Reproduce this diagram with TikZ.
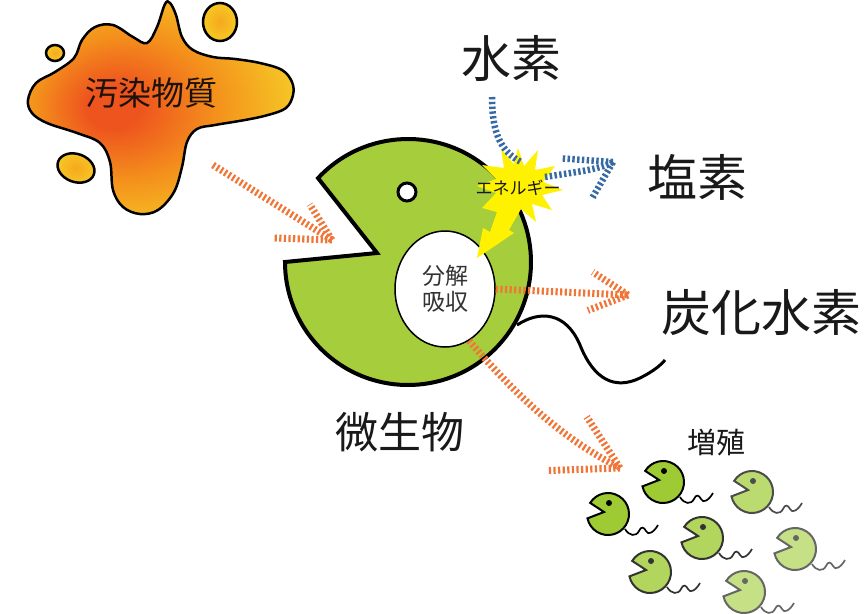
\documentclass[tikz,border=0pt]{standalone}
\usepackage{fontspec}
\newfontfamily\jp{Noto Sans CJK JP}
\usepackage{tikz}
\usetikzlibrary{shapes.geometric}

\definecolor{splatcore}{RGB}{238,84,30}
\definecolor{splatmid}{RGB}{244,145,28}
\definecolor{splatrim}{RGB}{246,205,38}
\definecolor{dropcore}{RGB}{246,168,30}
\definecolor{dropfill}{RGB}{246,200,36}
\definecolor{bodygreen}{RGB}{165,205,60}
\definecolor{bugfill}{RGB}{158,203,52}
\definecolor{feedorange}{RGB}{240,118,56}
\definecolor{gasblue}{RGB}{55,105,165}
\definecolor{sparkyellow}{RGB}{255,242,0}
\definecolor{inktext}{RGB}{25,25,25}

% orange splat: red core fading out to yellow
\pgfdeclareradialshading{splat}{\pgfpoint{-10bp}{0bp}}{color(0bp)=(splatcore); color(5bp)=(splatcore); color(17bp)=(splatmid); color(31bp)=(splatrim); color(50bp)=(splatrim)}

\begin{document}
\begin{tikzpicture}[x=1pt,y=-1pt,
feed/.style={draw=feedorange,line width=7pt,dash pattern=on 2.2pt off 2.4pt},
gas/.style={draw=gasblue,line width=6.5pt,dash pattern=on 2.4pt off 2.4pt},
biglabel/.style={font=\jp\fontsize{50}{56}\selectfont,text=inktext,inner sep=0pt},
midlabel/.style={font=\jp\fontsize{43}{48}\selectfont,text=inktext,inner sep=0pt},
smalllabel/.style={font=\jp\fontsize{29}{32}\selectfont,text=inktext,inner sep=0pt},
pics/bug/.style={code={
  \draw[draw=black!#1!white,line width=1.7pt] (17,15) .. controls (21,22) and (28,23) .. (31,17) .. controls (33,12) and (36,13) .. (38,17) .. controls (40,22) and (46,18) .. (50,11);
  \draw[fill=bugfill!#1!white,draw=black!#1!white,line width=2pt] (-4,-2) -- (212:21) arc[start angle=212,end angle=528,radius=21] -- cycle;
  \fill[black!#1!white] (1,-11) circle[radius=3];
}}]
\path[use as bounding box,fill=white] (0,0) rectangle (864,613);

% pollutant splat and its drops
\shade[shading=splat,draw=black,line width=2.5pt] plot[smooth cycle,tension=0.6] coordinates {
  (28,100) (36,83) (55,72) (74,58) (82,40) (95,27) (113,25) (133,37) (147,43)
  (157,27) (165,4) (170,3) (176,15) (182,37) (193,50) (213,57) (235,59) (260,63)
  (282,70) (292,82) (293,95) (286,108) (268,115) (245,120) (215,125) (197,129)
  (187,142) (182,167) (174,192) (158,210) (140,214) (123,207) (113,190) (110,162)
  (100,143) (77,133) (47,123) (32,113)};
\shade[inner color=dropcore,outer color=dropfill,draw=black,line width=2.5pt] (220,22) ellipse[x radius=17,y radius=19];
\shade[inner color=dropcore,outer color=dropfill,draw=black,line width=2.5pt] (55,53) ellipse[x radius=9,y radius=8];
\shade[inner color=dropcore,outer color=dropfill,draw=black,line width=2.5pt,rotate around={-20:(76,168)}] (76,168) ellipse[x radius=19,y radius=14];
\node[font=\jp\fontsize{33}{36}\selectfont,text=black!85!brown,inner sep=0pt] (pollutant) at (151,93) {汚染物質};

% the microbe
\coordinate (cell) at (408,262);
\coordinate (gape) at (377,253);
\coordinate (eye) at (407,192);
\draw[line width=3pt] (517,325) .. controls (540,310) and (566,312) .. (580,345) .. controls (594,380) and (615,390) .. (640,378) .. controls (652,372) and (660,366) .. (665,360);
\draw[fill=bodygreen,line width=4pt,line join=miter] (cell) ++(223:123) arc[start angle=223,end angle=540,radius=123] -- (gape) -- cycle;
\draw[fill=white,line width=3pt] (eye) circle[radius=9];
\node[draw,ellipse,fill=white,line width=1.5pt,minimum width=100pt,minimum height=116pt,inner sep=0pt,
  align=center,font=\jp\fontsize{23}{26}\selectfont,text=black!80] (core) at (445,289) {分解\\吸収};

% energy spark
\fill[sparkyellow] (518,148) -- (524,166) -- (538,150) -- (535,170) -- (555,166) -- (543,182)
  -- (563,190) -- (542,195) -- (552,210) -- (532,204) -- (536,222) -- (521,209)
  -- (509,230) -- (514,233) -- (477,258) -- (483,228) -- (490,232) -- (497,212)
  -- (482,208) -- (496,193) -- (477,186) -- (496,179) -- (482,165) -- (504,168)
  -- (501,149) -- (514,164) -- cycle;

% hashed flows
\coordinate (spill) at (213,165);
\coordinate (intake) at (332,240);
\coordinate (hcout) at (628,295);
\coordinate (offspring) at (620,468);
\coordinate (h2in) at (492,97);
\coordinate (sparktop) at (521,162);
\coordinate (sparkright) at (545,177);
\coordinate (clout) at (613,162);
\draw[feed] (spill) -- (intake);
\draw[feed] (intake) -- ++(238:42) (intake) -- ++(182:59);
\draw[feed] (core.east) -- (hcout);
\draw[feed] (hcout) -- ++(213:42) (hcout) -- ++(159:43);
\draw[feed] (core.-65) .. controls (520,400) and (565,440) .. (offspring);
\draw[feed] (offspring) -- ++(237:61) (offspring) -- ++(178:73);
\draw[gas] (h2in) .. controls (492,135) and (502,152) .. (sparktop);
\draw[gas] (sparkright) .. controls (575,172) and (598,170) .. (clout);
\draw[gas] (clout) -- ++(184:51) (clout) -- ++(120:42);

\node[font=\jp\fontsize{17}{19}\selectfont,text=inktext,inner sep=0pt] (spark) at (518,188) {エネルギー};

% labels
\node[biglabel] (h2) at (511,58) {水素};
\node[biglabel] (cl2) at (697,177) {塩素};
\node[biglabel] (hc) at (761,313) {炭化水素};
\node[midlabel] (microbe) at (400,432) {微生物};
\node[smalllabel] (growth) at (716,443) {増殖};

% offspring
\pic at (663,482) {bug=100};
\pic at (608,514) {bug=100};
\pic at (752,492) {bug=70};
\pic at (702,538) {bug=80};
\pic at (650,572) {bug=80};
\pic at (795,549) {bug=60};
\pic at (744,592) {bug=60};
\end{tikzpicture}
\end{document}
